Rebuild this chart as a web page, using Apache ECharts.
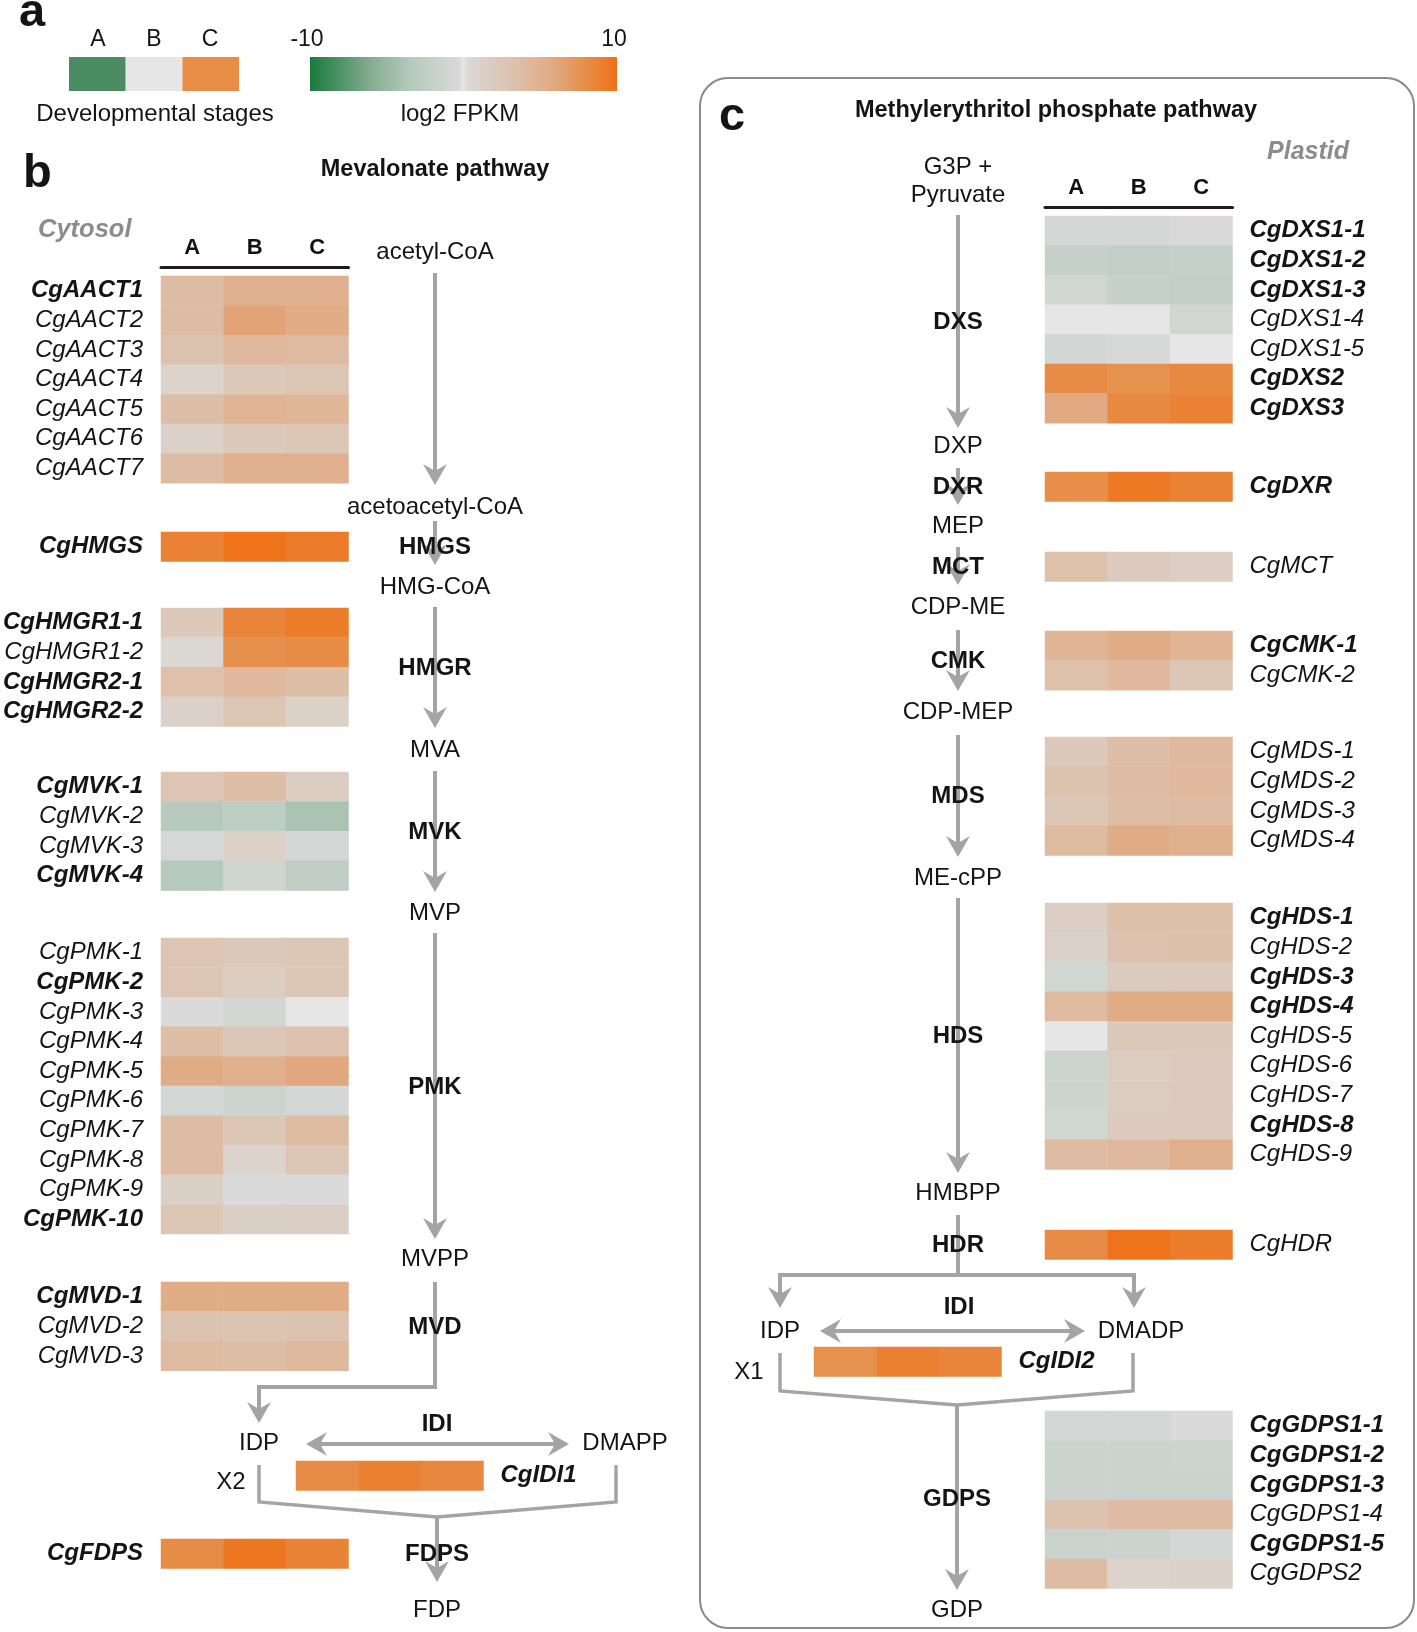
<!DOCTYPE html>
<html><head><meta charset="utf-8">
<script src="https://cdn.jsdelivr.net/npm/echarts@6/dist/echarts.min.js"></script>
<style>html,body{margin:0;padding:0;background:#fff}#c{width:1417px;height:1632px}</style>
</head><body><div id="c"></div>
<script>
// ---------- DATA ----------
const stages = ['A', 'B', 'C'];

// Mevalonate pathway (cytosol), log2 FPKM per stage A/B/C
const aactGenes = ['CgAACT1','CgAACT2','CgAACT3','CgAACT4','CgAACT5','CgAACT6','CgAACT7'];
const aactValues = [[3.8,5.2,5.2],[3.8,6.3,5.5],[3.0,4.2,4.0],[1.0,2.3,2.8],[3.6,4.7,4.5],[1.2,2.3,2.5],[3.8,5.2,5.2]];
const hmgsGenes = ['CgHMGS'];
const hmgsValues = [[8.8,9.8,9.3]];
const hmgrGenes = ['CgHMGR1-1','CgHMGR1-2','CgHMGR2-1','CgHMGR2-2'];
const hmgrValues = [[2.3,8.6,9.2],[0.5,7.8,8.1],[3.3,4.2,3.6],[1.2,2.8,1.3]];
const mvkGenes = ['CgMVK-1','CgMVK-2','CgMVK-3','CgMVK-4'];
const mvkValues = [[2.8,3.6,1.8],[-3.2,-2.6,-4.0],[-0.5,1.3,-0.7],[-3.4,-1.2,-2.5]];
const pmkGenes = ['CgPMK-1','CgPMK-2','CgPMK-3','CgPMK-4','CgPMK-5','CgPMK-6','CgPMK-7','CgPMK-8','CgPMK-9','CgPMK-10'];
const pmkValues = [[2.8,2.4,2.6],[2.8,1.8,2.5],[-0.3,-1.0,0],[3.6,2.5,3.1],[5.6,5.2,6.0],[-0.8,-1.5,-0.8],[3.8,2.5,4.0],[3.8,1.0,2.5],[1.4,-0.3,-0.3],[2.6,1.4,1.5]];
const mvdGenes = ['CgMVD-1','CgMVD-2','CgMVD-3'];
const mvdValues = [[5.5,5.6,5.5],[3.0,2.9,3.0],[4.0,3.7,4.1]];
const idi1Genes = ['CgIDI1'];
const idi1Values = [[8.1,8.9,8.4]];
const fdpsGenes = ['CgFDPS'];
const fdpsValues = [[8.1,9.6,8.7]];

// Methylerythritol phosphate pathway (plastid)
const dxsGenes = ['CgDXS1-1','CgDXS1-2','CgDXS1-3','CgDXS1-4','CgDXS1-5','CgDXS2','CgDXS3'];
const dxsValues = [[-0.7,-0.7,-0.4],[-2.2,-2.4,-2.2],[-1.0,-2.1,-2.4],[0,0,-1.0],[-0.9,-0.6,0],[8.1,7.7,8.3],[5.8,8.3,8.8]];
const dxrGenes = ['CgDXR'];
const dxrValues = [[7.9,9.4,8.8]];
const mctGenes = ['CgMCT'];
const mctValues = [[3.3,2.1,1.6]];
const cmkGenes = ['CgCMK-1','CgCMK-2'];
const cmkValues = [[4.6,5.5,4.6],[3.3,4.2,2.6]];
const mdsGenes = ['CgMDS-1','CgMDS-2','CgMDS-3','CgMDS-4'];
const mdsValues = [[2.2,3.5,4.1],[3.0,3.8,4.2],[2.5,3.6,3.9],[4.0,5.5,5.3]];
const hdsGenes = ['CgHDS-1','CgHDS-2','CgHDS-3','CgHDS-4','CgHDS-5','CgHDS-6','CgHDS-7','CgHDS-8','CgHDS-9'];
const hdsValues = [[1.6,3.4,3.4],[1.2,3.1,3.4],[-1.1,2.0,2.1],[4.0,5.6,5.6],[0,2.4,2.4],[-1.5,1.9,2.1],[-1.3,1.9,2.1],[-1.1,2.1,2.1],[3.9,4.2,5.2]];
const hdrGenes = ['CgHDR'];
const hdrValues = [[8.1,9.8,9.2]];
const idi2Genes = ['CgIDI2'];
const idi2Values = [[7.7,9.0,8.6]];
const gdpsGenes = ['CgGDPS1-1','CgGDPS1-2','CgGDPS1-3','CgGDPS1-4','CgGDPS1-5','CgGDPS2'];
const gdpsValues = [[-0.7,-0.7,-0.3],[-1.6,-1.6,-1.4],[-1.6,-1.6,-1.6],[3.0,3.9,3.9],[-1.6,-1.6,-0.8],[3.8,1.0,1.2]];

const boldGenes = ['CgAACT1','CgHMGS','CgHMGR1-1','CgHMGR2-1','CgHMGR2-2','CgMVK-1','CgMVK-4','CgPMK-2','CgPMK-10','CgMVD-1','CgIDI1','CgFDPS',
  'CgDXS1-1','CgDXS1-2','CgDXS1-3','CgDXS2','CgDXS3','CgDXR','CgCMK-1','CgHDS-1','CgHDS-3','CgHDS-4','CgHDS-8','CgIDI2',
  'CgGDPS1-1','CgGDPS1-2','CgGDPS1-3','CgGDPS1-5'];

const scaleMin = -10, scaleMax = 10;
const scaleTicks = ['-10', '10'];
const stageLegendColors = ['#4b8b62', '#e6e6e6', '#e88d45'];
const colorStops = [[-10,'#1a7a3c'],[-6,'#86ad92'],[-3.5,'#b4c9bb'],[-2,'#c6d1ca'],[-1,'#d1d6d3'],[-0.3,'#d8d9d8'],[0,'#e6e6e6'],
  [0.3,'#dbd8d5'],[1.5,'#dbcfc5'],[3,'#dcc3b0'],[4.5,'#dfb698'],[6,'#e1a87f'],[7.5,'#e59454'],[9,'#ea8030'],[10,'#ef7015']];

// ---------- LAYOUT ----------
const FF = '"Liberation Sans", Arial, Helvetica, sans-serif';
const TXT = '#141414';
const GREY = '#a4a4a4';
const FS = 24;
const ROW = 29.6, CELLW = 62.5;

const blocks = [
  {genes: aactGenes, values: aactValues, left: 161, top: 276, side: 'left', header: true},
  {genes: hmgsGenes, values: hmgsValues, left: 161, top: 532, side: 'left'},
  {genes: hmgrGenes, values: hmgrValues, left: 161, top: 608, side: 'left'},
  {genes: mvkGenes, values: mvkValues, left: 161, top: 772, side: 'left'},
  {genes: pmkGenes, values: pmkValues, left: 161, top: 938, side: 'left'},
  {genes: mvdGenes, values: mvdValues, left: 161, top: 1282, side: 'left'},
  {genes: idi1Genes, values: idi1Values, left: 296, top: 1461, side: 'right'},
  {genes: fdpsGenes, values: fdpsValues, left: 161, top: 1539, side: 'left'},
  {genes: dxsGenes, values: dxsValues, left: 1045, top: 216, side: 'right', header: true},
  {genes: dxrGenes, values: dxrValues, left: 1045, top: 472, side: 'right'},
  {genes: mctGenes, values: mctValues, left: 1045, top: 552, side: 'right'},
  {genes: cmkGenes, values: cmkValues, left: 1045, top: 631, side: 'right'},
  {genes: mdsGenes, values: mdsValues, left: 1045, top: 737, side: 'right'},
  {genes: hdsGenes, values: hdsValues, left: 1045, top: 903, side: 'right'},
  {genes: hdrGenes, values: hdrValues, left: 1045, top: 1230, side: 'right'},
  {genes: idi2Genes, values: idi2Values, left: 814, top: 1347, side: 'right'},
  {genes: gdpsGenes, values: gdpsValues, left: 1045, top: 1411, side: 'right'}
];

// colour scale
function hex2rgb(h){ h=h.replace('#',''); return [parseInt(h.substr(0,2),16),parseInt(h.substr(2,2),16),parseInt(h.substr(4,2),16)]; }
function colorAt(v){
  for (let i=0;i<colorStops.length-1;i++){
    const a=colorStops[i], b=colorStops[i+1];
    if (v>=a[0] && v<=b[0]){
      const t=(v-a[0])/(b[0]-a[0]); const ca=hex2rgb(a[1]), cb=hex2rgb(b[1]);
      return 'rgb('+ca.map((x,k)=>Math.round(x+(cb[k]-x)*t)).join(',')+')';
    }
  }
  return colorStops[colorStops.length-1][1];
}
const vmColors=[]; for (let i=0;i<=80;i++) vmColors.push(colorAt(scaleMin+i*0.25));

const grids=[], xAxes=[], yAxes=[], series=[];
blocks.forEach((b,i)=>{
  grids.push({left:b.left, top:b.top, width:CELLW*3, height:ROW*b.genes.length, containLabel:false, outerBoundsMode:'none'});
  xAxes.push({type:'category', gridIndex:i, data:stages, position:'top', show:!!b.header, offset:9,
    axisLine:{show:true, lineStyle:{color:'#231815', width:3}}, axisTick:{show:false}, splitLine:{show:false},
    axisLabel:{fontFamily:FF, fontWeight:'bold', fontSize:22, color:'#111', margin:8}});
  yAxes.push({type:'category', gridIndex:i, data:b.genes, inverse:true, position:b.side,
    axisLine:{show:false}, axisTick:{show:false}, splitLine:{show:false},
    axisLabel:{interval:0, margin: b.side==='left'?18:17, fontFamily:FF, fontSize:FS, fontStyle:'italic', color:TXT,
      formatter: v => boldGenes.includes(v) ? '{b|'+v+'}' : '{n|'+v+'}',
      rich:{b:{fontFamily:FF, fontSize:FS, fontStyle:'italic', fontWeight:'bold', color:TXT},
            n:{fontFamily:FF, fontSize:FS, fontStyle:'italic', fontWeight:'normal', color:TXT}}}});
  const data=[]; b.values.forEach((row,r)=>row.forEach((v,c)=>data.push([c,r,v])));
  series.push({type:'heatmap', xAxisIndex:i, yAxisIndex:i, data:data, itemStyle:{borderWidth:0}, emphasis:{disabled:true}, silent:true, progressive:0});
});

// ---------- GRAPHIC (diagram) ----------
const G=[];
function T(text,x,y,o){ o=o||{};
  G.push({type:'text', x:x, y:y, z:20, silent:true, style:{text:text, fontFamily:FF, fontSize:o.size||FS, fontWeight:o.bold?'bold':'normal',
    fontStyle:o.italic?'italic':'normal', fill:o.color||TXT, textAlign:o.align||'center', align:o.align||'center',
    textVerticalAlign:'middle', verticalAlign:'middle'}});
}
function L(points,w){ G.push({type:'polyline', z:5, silent:true, shape:{points:points}, style:{stroke:GREY, lineWidth:w||4, fill:null, lineJoin:'miter'}}); }
function headDown(x,y){ G.push({type:'polygon', z:6, silent:true, shape:{points:[[x,y],[x-12,y-21],[x,y-14],[x+12,y-21]]}, style:{fill:GREY}}); }
function headLeft(x,y){ G.push({type:'polygon', z:6, silent:true, shape:{points:[[x,y],[x+21,y-12],[x+14,y],[x+21,y+12]]}, style:{fill:GREY}}); }
function headRight(x,y){ G.push({type:'polygon', z:6, silent:true, shape:{points:[[x,y],[x-21,y-12],[x-14,y],[x-21,y+12]]}, style:{fill:GREY}}); }
function vArrow(x,y1,y2){ L([[x,y1],[x,y2-12]]); headDown(x,y2); }
function dArrow(x1,x2,y){ L([[x1+12,y],[x2-12,y]]); headLeft(x1,y); headRight(x2,y); }

// panel a
T('a',19,13,{bold:true,size:47,align:'left'});
stages.forEach((s,i)=>{
  G.push({type:'rect', z:2, silent:true, shape:{x:69+i*56.7, y:57, width:56.7, height:34}, style:{fill:stageLegendColors[i]}});
  T(s,98+i*56,40,{size:23});
});
T('Developmental stages',155,114);
G.push({type:'rect', z:2, silent:true, shape:{x:310, y:57, width:307, height:34},
  style:{fill:new echarts.graphic.LinearGradient(0,0,1,0, colorStops.map(s=>({offset:(s[0]-scaleMin)/(scaleMax-scaleMin), color:s[1]})))}});
T(scaleTicks[0],307,40,{size:23}); T(scaleTicks[1],614,40,{size:23});
T('log2 FPKM',460,114);

// panel b
T('b',23,174,{bold:true,size:47,align:'left'});
T('Mevalonate pathway',435,170,{bold:true,size:23.5});
T('Cytosol',38,230,{bold:true,italic:true,color:'#8c8c8c',align:'left',size:25.5});
const bx=435;
T('acetyl-CoA',bx,252); vArrow(bx,273,485);
T('acetoacetyl-CoA',bx,507); vArrow(bx,521,565); T('HMGS',bx,547,{bold:true});
T('HMG-CoA',bx,587); vArrow(bx,607,728); T('HMGR',bx,668,{bold:true});
T('MVA',bx,750); vArrow(bx,771,892); T('MVK',bx,832,{bold:true});
T('MVP',bx,913); vArrow(bx,933,1239); T('PMK',bx,1087,{bold:true});
T('MVPP',bx,1259);
L([[bx,1282],[bx,1387],[259,1387],[259,1411]]); headDown(259,1423); T('MVD',bx,1327,{bold:true});
T('IDI',437,1424,{bold:true}); T('IDP',259,1443); T('DMAPP',625,1443); dArrow(306,569,1444);
T('X2',231,1482);
L([[259,1465],[259,1502],[437,1517],[616,1502],[616,1465]],3.5);
vArrow(437,1517,1582); T('FDPS',437,1554,{bold:true}); T('FDP',437,1610);

// panel c
G.push({type:'rect', z:1, silent:true, shape:{x:700, y:78, width:714, height:1550, r:28}, style:{fill:null, stroke:'#8a8a8a', lineWidth:2}});
T('c',719,117,{bold:true,size:47,align:'left'});
T('Methylerythritol phosphate pathway',1056,111,{bold:true,size:23.5});
T('Plastid',1308,152,{bold:true,italic:true,color:'#8c8c8c',size:25});
const cx=958;
T('G3P +',cx,167); T('Pyruvate',cx,195);
vArrow(cx,215,428); T('DXS',cx,322,{bold:true});
T('DXP',cx,446); vArrow(cx,468,505); T('DXR',cx,487,{bold:true});
T('MEP',cx,526); vArrow(cx,547,585); T('MCT',cx,567,{bold:true});
T('CDP-ME',cx,607); vArrow(cx,630,691); T('CMK',cx,661,{bold:true});
T('CDP-MEP',cx,712); vArrow(cx,735,857); T('MDS',cx,796,{bold:true});
T('ME-cPP',cx,878); vArrow(cx,898,1173); T('HDS',cx,1036,{bold:true});
T('HMBPP',cx,1193); L([[cx,1215],[cx,1275]]); T('HDR',cx,1245,{bold:true});
L([[780,1296],[780,1275],[1134,1275],[1134,1296]]); headDown(780,1308); headDown(1134,1308);
T('IDI',959,1307,{bold:true}); T('IDP',780,1331); T('DMADP',1141,1331); dArrow(820,1085,1331);
T('X1',749,1372);
L([[780,1353],[780,1391],[957,1405],[1133,1391],[1133,1353]],3.5);
vArrow(957,1405,1590); T('GDPS',957,1499,{bold:true}); T('GDP',957,1610);

const chart = echarts.init(document.getElementById('c'), null, {renderer:'canvas'});
chart.setOption({
  animation:false,
  backgroundColor:'#ffffff',
  grid:grids, xAxis:xAxes, yAxis:yAxes,
  visualMap:{type:'continuous', show:false, min:scaleMin, max:scaleMax, seriesIndex:series.map((s,i)=>i), inRange:{color:vmColors}},
  series:series,
  graphic:{elements:G}
});
</script></body></html>
